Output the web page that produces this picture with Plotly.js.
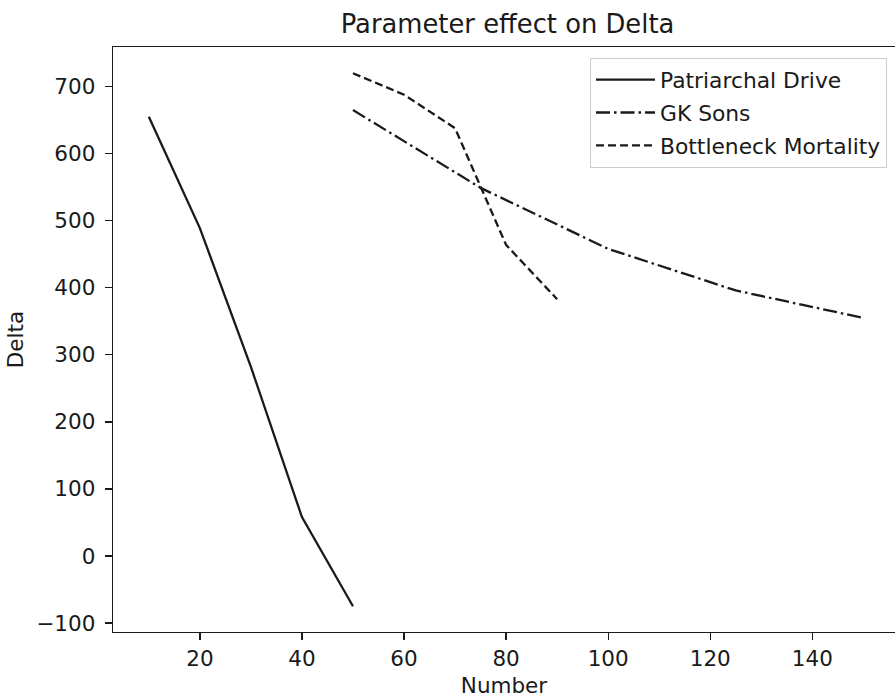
<!DOCTYPE html>
<html>
<head>
<meta charset="utf-8">
<script src="https://cdn.plot.ly/plotly-3.0.1.min.js"></script>
<style>html,body{margin:0;padding:0;background:#fff;}#chart{width:895px;height:698px;}</style>
</head>
<body>
<div id="chart"></div>
<script>
const patriarchalX = [10, 20, 30, 40, 50];
const patriarchalY = [655, 489, 282, 58, -75];
const gkSonsX = [50, 75, 100, 125, 150];
const gkSonsY = [665, 549, 458, 396, 355];
const bottleneckX = [50, 60, 70, 80, 90];
const bottleneckY = [720, 688, 638, 464, 383];
const seriesNames = ["Patriarchal Drive", "GK Sons", "Bottleneck Mortality"];

const lineColor = "#1a1a1a";
const font = "DejaVu Sans, sans-serif";

const traces = [
  {x: patriarchalX, y: patriarchalY, name: seriesNames[0], mode: "lines", legendgroup: "a",
   line: {color: lineColor, width: 2.3, dash: "solid"}},
  {x: gkSonsX, y: gkSonsY, name: seriesNames[1], mode: "lines", legendgroup: "b",
   line: {color: lineColor, width: 2.3, dash: "14px,4px,2.5px,4px"}},
  {x: bottleneckX, y: bottleneckY, name: seriesNames[2], mode: "lines", legendgroup: "c",
   line: {color: lineColor, width: 2.3, dash: "8px,4px"}}
];

const layout = {
  width: 895, height: 698,
  margin: {l: 113, r: 0, t: 47, b: 66, pad: 0},
  paper_bgcolor: "#ffffff", plot_bgcolor: "#ffffff",
  font: {family: font, color: "#1a1a1a", size: 21.5},
  showlegend: true,
  title: {text: "Parameter effect on Delta", font: {family: font, size: 25.8, color: "#1a1a1a"},
          xref: "paper", x: 0.5045, xanchor: "center", yref: "container", y: 1 - 24/698, yanchor: "middle"},
  xaxis: {
    range: [2.98, 156.2], tickmode: "linear", tick0: 0, dtick: 20,
    showgrid: false, zeroline: false, showline: true, linecolor: "#1a1a1a", linewidth: 1.3,
    mirror: true, ticks: "outside", ticklen: 7, tickwidth: 1.3, tickcolor: "#1a1a1a",
    tickfont: {family: font, size: 21.5, color: "#1a1a1a"},
    title: {text: "Number", font: {family: font, size: 21.5, color: "#1a1a1a"}, standoff: 10}
  },
  yaxis: {
    range: [-113.4, 759.1], tickmode: "linear", tick0: 0, dtick: 100,
    showgrid: false, zeroline: false, showline: true, linecolor: "#1a1a1a", linewidth: 1.3,
    mirror: false, ticks: "outside", ticklen: 7, tickwidth: 1.3, tickcolor: "#1a1a1a",
    ticklabelstandoff: 5,
    tickfont: {family: font, size: 21.5, color: "#1a1a1a"},
    title: {text: "Delta", font: {family: font, size: 21.5, color: "#1a1a1a"}, standoff: 6}
  },
  legend: {
    x: 0.9898, xanchor: "right", y: 0.9812, yanchor: "top",
    bgcolor: "rgba(255,255,255,0.85)", bordercolor: "#cccccc", borderwidth: 1,
    font: {family: font, size: 21.8, color: "#1a1a1a"},
    traceorder: "grouped", tracegroupgap: 1.5, itemwidth: 59
  }
};

Plotly.newPlot("chart", traces, layout, {displayModeBar: false, staticPlot: true});
</script>
</body>
</html>
